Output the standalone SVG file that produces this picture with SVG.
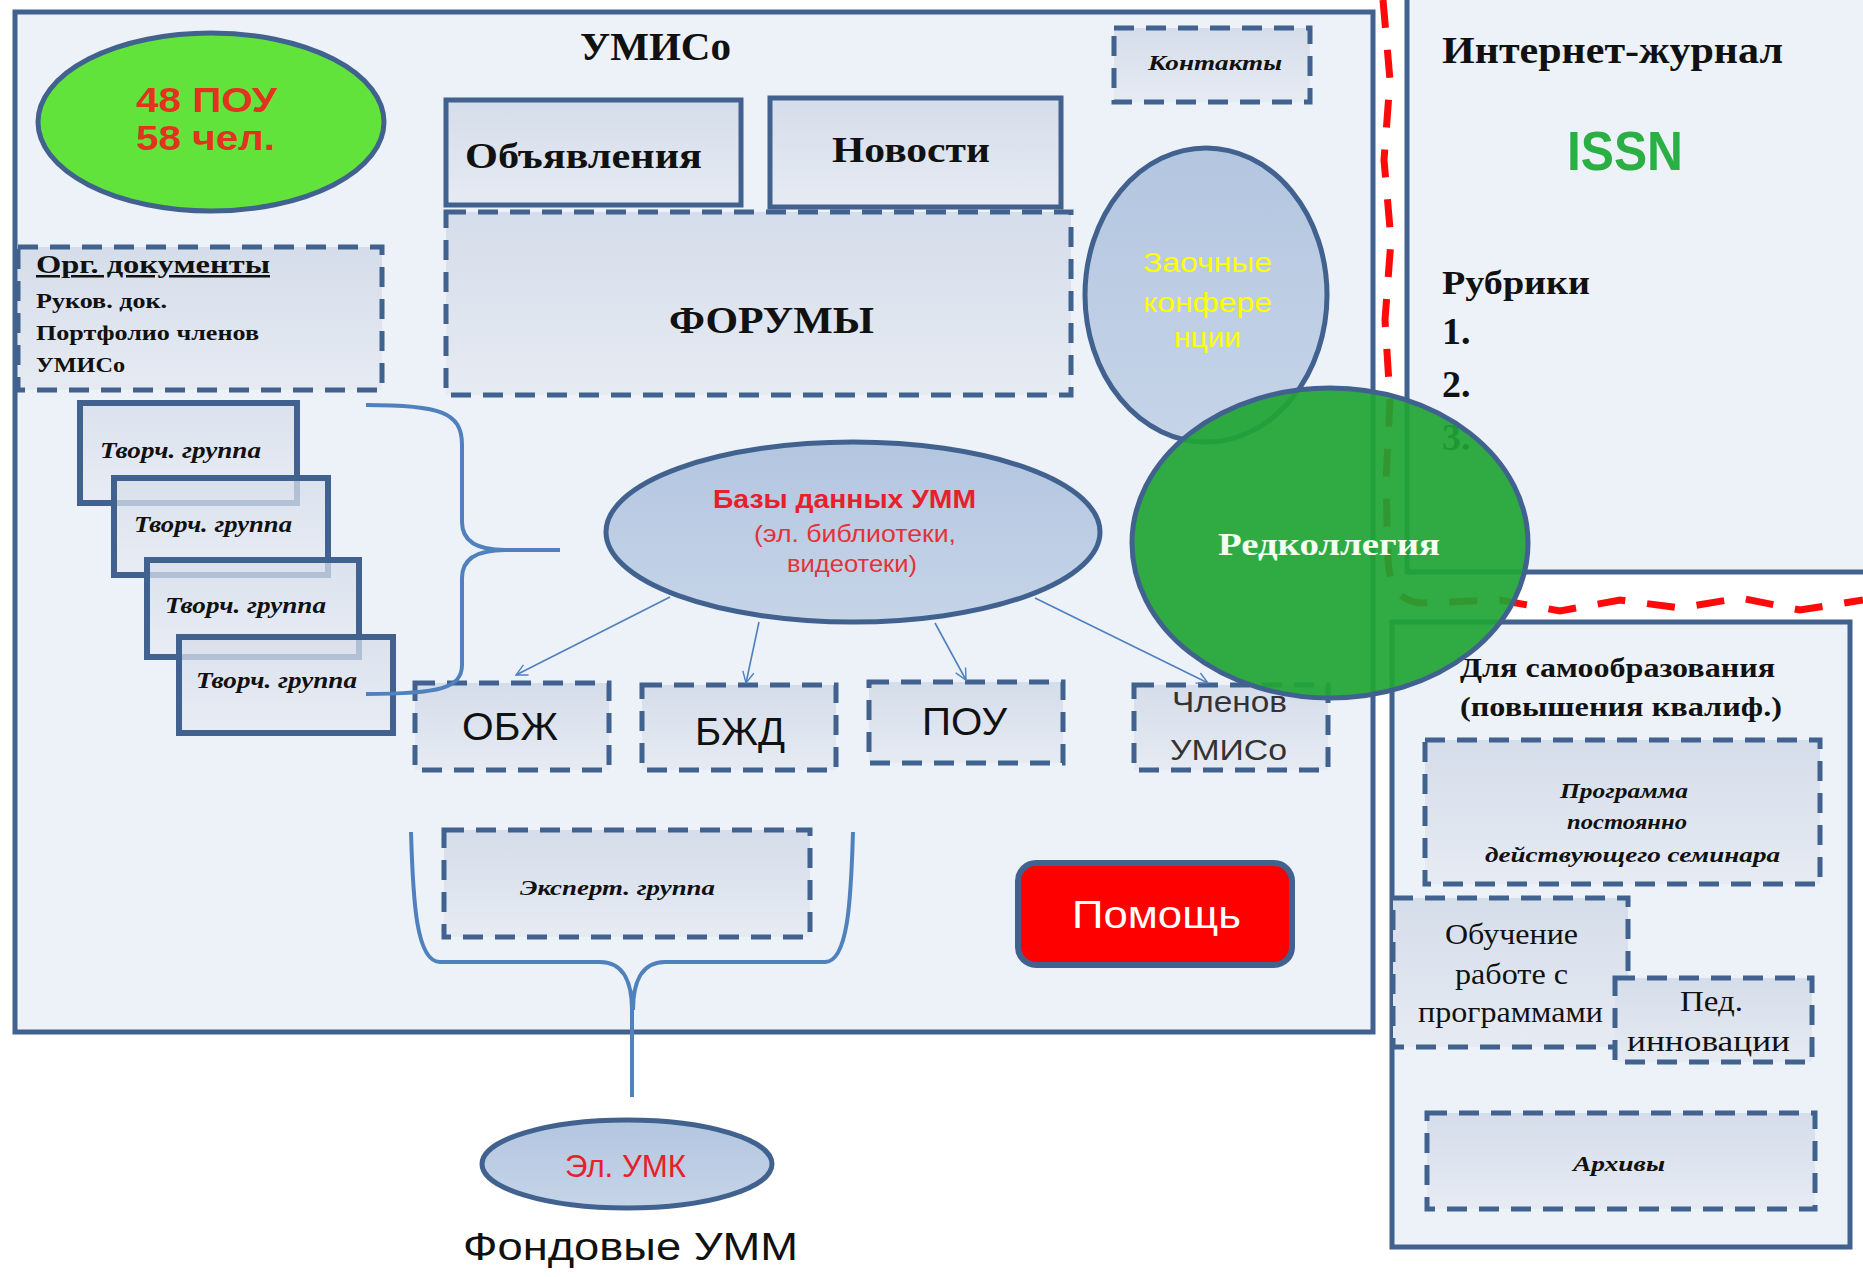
<svg xmlns="http://www.w3.org/2000/svg" width="1863" height="1277" viewBox="0 0 1863 1277">
<defs>
<linearGradient id="boxg" x1="0" y1="0" x2="0" y2="1"><stop offset="0" stop-color="#D5DDEA"/><stop offset="1" stop-color="#E6EBF3"/></linearGradient>
<linearGradient id="ellg" x1="0" y1="0" x2="0" y2="1"><stop offset="0" stop-color="#B3C6E0"/><stop offset="1" stop-color="#C6D4E8"/></linearGradient>
<marker id="arr" viewBox="0 0 20 20" refX="18" refY="10" markerWidth="14" markerHeight="14" markerUnits="userSpaceOnUse" orient="auto"><path d="M2,2 L18,10 L2,18" fill="none" stroke="#4F81BD" stroke-width="2"/></marker>
<style>
.frame{fill:#EDF1F8;stroke:#41628E;stroke-width:5}
.solid{fill:url(#boxg);stroke:#41628E;stroke-width:5}
.dash{fill:url(#boxg);stroke:#41628E;stroke-width:5;stroke-dasharray:20 12}
.tv{fill:url(#boxg);fill-opacity:0.75;stroke:#41628E;stroke-width:6}
.ell{fill:url(#ellg);stroke:#41628E;stroke-width:5}
.bs{font-family:"Liberation Serif",serif;font-weight:bold;fill:#111}
.bis{font-family:"Liberation Serif",serif;font-weight:bold;font-style:italic;fill:#111}
.rs{font-family:"Liberation Serif",serif;fill:#111}
.ss{font-family:"Liberation Sans",sans-serif}
.conn{fill:none;stroke:#4F81BD;stroke-width:1.6}
.brace{fill:none;stroke:#4F81BD;stroke-width:4}
</style>
</defs>
<rect x="0" y="0" width="1863" height="1277" fill="#FFFFFF"/>

<g id="umiso-frame">
<rect class="frame" x="15" y="12" width="1358" height="1020"/>
<text class="bs" x="580" y="60" font-size="40" textLength="151" lengthAdjust="spacingAndGlyphs">УМИСо</text>
</g>

<g id="journal">
<rect class="frame" x="1407" y="-10" width="470" height="582"/>
<text class="bs" x="1442" y="63" font-size="38" textLength="341" lengthAdjust="spacingAndGlyphs">Интернет-журнал</text>
<text class="ss" x="1567" y="170" font-size="56" font-weight="bold" fill="#2AAF45" textLength="116" lengthAdjust="spacingAndGlyphs">ISSN</text>
<text class="bs" x="1442" y="294" font-size="34" textLength="148" lengthAdjust="spacingAndGlyphs">Рубрики</text>
<text class="bs" x="1442" y="344" font-size="38">1.</text>
<text class="bs" x="1442" y="397" font-size="38">2.</text>
<text class="bs" x="1442" y="450" font-size="38">3.</text>
</g>

<g id="self-education">
<rect class="frame" x="1392" y="622" width="458" height="625"/>
<text class="bs" x="1460" y="677" font-size="27" textLength="315" lengthAdjust="spacingAndGlyphs">Для самообразования</text>
<text class="bs" x="1460" y="716" font-size="27" textLength="322" lengthAdjust="spacingAndGlyphs">(повышения квалиф.)</text>
</g>

<g id="red-divider">
<path d="M1383,0 L1390,80 L1384,160 L1391,240 L1385,320 L1390,400 L1386,480 L1388,560 Q1390,600 1420,603 L1500,600 L1560,611 L1620,600 L1680,608 L1740,598 L1800,610 L1863,600" fill="none" stroke="#FF0A0A" stroke-width="7" stroke-dasharray="28 22"/>
</g>

<g id="poy-count">
<ellipse cx="211" cy="122" rx="173" ry="89" fill="#62E33C" stroke="#41628E" stroke-width="5"/>
<text class="ss" x="136" y="112" font-size="35" font-weight="bold" fill="#E0341E" textLength="141" lengthAdjust="spacingAndGlyphs">48 ПОУ</text>
<text class="ss" x="136" y="150" font-size="35" font-weight="bold" fill="#E0341E" textLength="139" lengthAdjust="spacingAndGlyphs">58 чел.</text>
</g>

<g id="forums">
<rect class="dash" x="446" y="212" width="625" height="183"/>
<text class="bs" x="669" y="333" font-size="38" textLength="205" lengthAdjust="spacingAndGlyphs">ФОРУМЫ</text>
</g>
<g id="announcements">
<rect class="solid" x="446" y="100" width="295" height="105"/>
<text class="bs" x="465" y="168" font-size="35" textLength="237" lengthAdjust="spacingAndGlyphs">Объявления</text>
</g>
<g id="news">
<rect class="solid" x="770" y="98" width="291" height="109"/>
<text class="bs" x="832" y="162" font-size="36" textLength="158" lengthAdjust="spacingAndGlyphs">Новости</text>
</g>
<g id="contacts">
<rect class="dash" x="1114" y="28" width="196" height="74"/>
<text class="bis" x="1148" y="70" font-size="21" textLength="134" lengthAdjust="spacingAndGlyphs">Контакты</text>
</g>
<g id="org-docs">
<rect class="dash" x="18" y="247" width="364" height="143"/>
<text class="bs" x="36" y="273" font-size="25" text-decoration="underline" textLength="234" lengthAdjust="spacingAndGlyphs">Орг. документы</text>
<text class="bs" x="36" y="308" font-size="21" textLength="131" lengthAdjust="spacingAndGlyphs">Руков. док.</text>
<text class="bs" x="36" y="340" font-size="21" textLength="223" lengthAdjust="spacingAndGlyphs">Портфолио  членов</text>
<text class="bs" x="36" y="372" font-size="21" textLength="89" lengthAdjust="spacingAndGlyphs">УМИСо</text>
</g>
<g id="conferences">
<ellipse class="ell" cx="1206" cy="295" rx="121" ry="147"/>
<text class="ss" x="1143" y="272" font-size="28" fill="#FFFF00" textLength="129" lengthAdjust="spacingAndGlyphs">Заочные</text>
<text class="ss" x="1143" y="312" font-size="28" fill="#FFFF00" textLength="129" lengthAdjust="spacingAndGlyphs">конфере</text>
<text class="ss" x="1174" y="347" font-size="28" fill="#FFFF00" textLength="67" lengthAdjust="spacingAndGlyphs">нции</text>
</g>

<g id="tvorch-1">
<rect class="tv" x="80" y="403" width="217" height="100"/>
<text class="bis" x="100" y="458" font-size="23" textLength="161" lengthAdjust="spacingAndGlyphs">Творч. группа</text>
</g>
<g id="tvorch-2">
<rect class="tv" x="114" y="478" width="214" height="97"/>
<text class="bis" x="134" y="532" font-size="23" textLength="158" lengthAdjust="spacingAndGlyphs">Творч. группа</text>
</g>
<g id="tvorch-3">
<rect class="tv" x="147" y="560" width="212" height="97"/>
<text class="bis" x="165" y="613" font-size="23" textLength="161" lengthAdjust="spacingAndGlyphs">Творч. группа</text>
</g>
<g id="tvorch-4">
<rect class="tv" x="179" y="637" width="214" height="96"/>
<text class="bis" x="196" y="688" font-size="23" textLength="161" lengthAdjust="spacingAndGlyphs">Творч. группа</text>
</g>

<g id="databases">
<ellipse class="ell" cx="853" cy="532" rx="247" ry="90"/>
<text class="ss" x="713" y="508" font-size="25" font-weight="bold" fill="#E8202A" textLength="263" lengthAdjust="spacingAndGlyphs">Базы данных УММ</text>
<text class="ss" x="754" y="542" font-size="24" fill="#E53238" textLength="202" lengthAdjust="spacingAndGlyphs">(эл. библиотеки,</text>
<text class="ss" x="787" y="572" font-size="24" fill="#E53238" textLength="130" lengthAdjust="spacingAndGlyphs">видеотеки)</text>
</g>

<g id="obzh">
<rect class="dash" x="415" y="683" width="194" height="87"/>
<text class="ss" x="462" y="740" font-size="38" fill="#111" textLength="96" lengthAdjust="spacingAndGlyphs">ОБЖ</text>
</g>
<g id="bzhd">
<rect class="dash" x="642" y="685" width="194" height="85"/>
<text class="ss" x="695" y="745" font-size="38" fill="#111" textLength="90" lengthAdjust="spacingAndGlyphs">БЖД</text>
</g>
<g id="pou">
<rect class="dash" x="869" y="682" width="194" height="81"/>
<text class="ss" x="922" y="735" font-size="38" fill="#111" textLength="85" lengthAdjust="spacingAndGlyphs">ПОУ</text>
</g>
<g id="members">
<rect class="dash" x="1134" y="685" width="194" height="85"/>
<text class="ss" x="1172" y="712" font-size="30" fill="#333" textLength="115" lengthAdjust="spacingAndGlyphs">Членов</text>
<text class="ss" x="1170" y="760" font-size="30" fill="#333" textLength="117" lengthAdjust="spacingAndGlyphs">УМИСо</text>
</g>

<g id="expert">
<rect class="dash" x="444" y="830" width="366" height="107"/>
<text class="bis" x="520" y="895" font-size="22" textLength="195" lengthAdjust="spacingAndGlyphs">Эксперт. группа</text>
</g>
<g id="help">
<rect x="1018" y="863" width="274" height="102" rx="18" fill="#FF0000" stroke="#41628E" stroke-width="6"/>
<text class="ss" x="1072" y="928" font-size="38" fill="#FFFFFF" textLength="169" lengthAdjust="spacingAndGlyphs">Помощь</text>
</g>
<g id="el-umk">
<ellipse class="ell" cx="627" cy="1164" rx="145" ry="44"/>
<text class="ss" x="565" y="1177" font-size="31" fill="#E8202A" textLength="121" lengthAdjust="spacingAndGlyphs">Эл. УМК</text>
</g>
<g id="fund-label">
<text class="ss" x="463" y="1260" font-size="38" fill="#111" textLength="335" lengthAdjust="spacingAndGlyphs">Фондовые УММ</text>
</g>

<g id="seminar">
<rect class="dash" x="1425" y="740" width="395" height="144"/>
<text class="bis" x="1560" y="798" font-size="22" textLength="128" lengthAdjust="spacingAndGlyphs">Программа</text>
<text class="bis" x="1567" y="829" font-size="22" textLength="120" lengthAdjust="spacingAndGlyphs">постоянно</text>
<text class="bis" x="1485" y="862" font-size="22" textLength="295" lengthAdjust="spacingAndGlyphs">действующего  семинара</text>
</g>
<g id="training">
<rect class="dash" x="1393" y="898" width="235" height="149"/>
<text class="rs" x="1445" y="944" font-size="30" textLength="133" lengthAdjust="spacingAndGlyphs">Обучение</text>
<text class="rs" x="1455" y="984" font-size="30" textLength="113" lengthAdjust="spacingAndGlyphs">работе с</text>
<text class="rs" x="1418" y="1022" font-size="30" textLength="185" lengthAdjust="spacingAndGlyphs">программами</text>
</g>
<g id="ped-innov">
<rect class="dash" x="1615" y="978" width="197" height="84"/>
<text class="rs" x="1680" y="1011" font-size="30" textLength="63" lengthAdjust="spacingAndGlyphs">Пед.</text>
<text class="rs" x="1627" y="1051" font-size="30" textLength="163" lengthAdjust="spacingAndGlyphs">инновации</text>
</g>
<g id="archives">
<rect class="dash" x="1427" y="1113" width="388" height="96"/>
<text class="bis" x="1573" y="1171" font-size="22" textLength="92" lengthAdjust="spacingAndGlyphs">Архивы</text>
</g>

<g id="connectors">
<path class="brace" d="M366,405 C440,405 462,412 462,445 L462,522 C462,542 478,550 505,550 L560,550 L505,550 C478,550 462,558 462,578 L462,665 C462,688 440,694 366,694"/>
<path class="brace" d="M411,832 C413,900 416,962 440,962 L600,962 C625,962 632,985 632,1010 L632,1097 M853,832 C851,900 848,962 825,962 L665,962 C640,962 633,985 633,1010"/>
<line class="conn" x1="670" y1="597" x2="516" y2="675" marker-end="url(#arr)"/>
<line class="conn" x1="759" y1="622" x2="746" y2="683" marker-end="url(#arr)"/>
<line class="conn" x1="935" y1="623" x2="966" y2="680" marker-end="url(#arr)"/>
<line class="conn" x1="1035" y1="598" x2="1208" y2="683" marker-end="url(#arr)"/>
</g>

<g id="editorial">
<ellipse cx="1330" cy="543" rx="198" ry="155" fill="#1FA534" fill-opacity="0.92" stroke="#41628E" stroke-width="5"/>
<text class="bs" x="1218" y="555" font-size="32" style="fill:#F2FFF2" textLength="222" lengthAdjust="spacingAndGlyphs">Редколлегия</text>
</g>
</svg>
